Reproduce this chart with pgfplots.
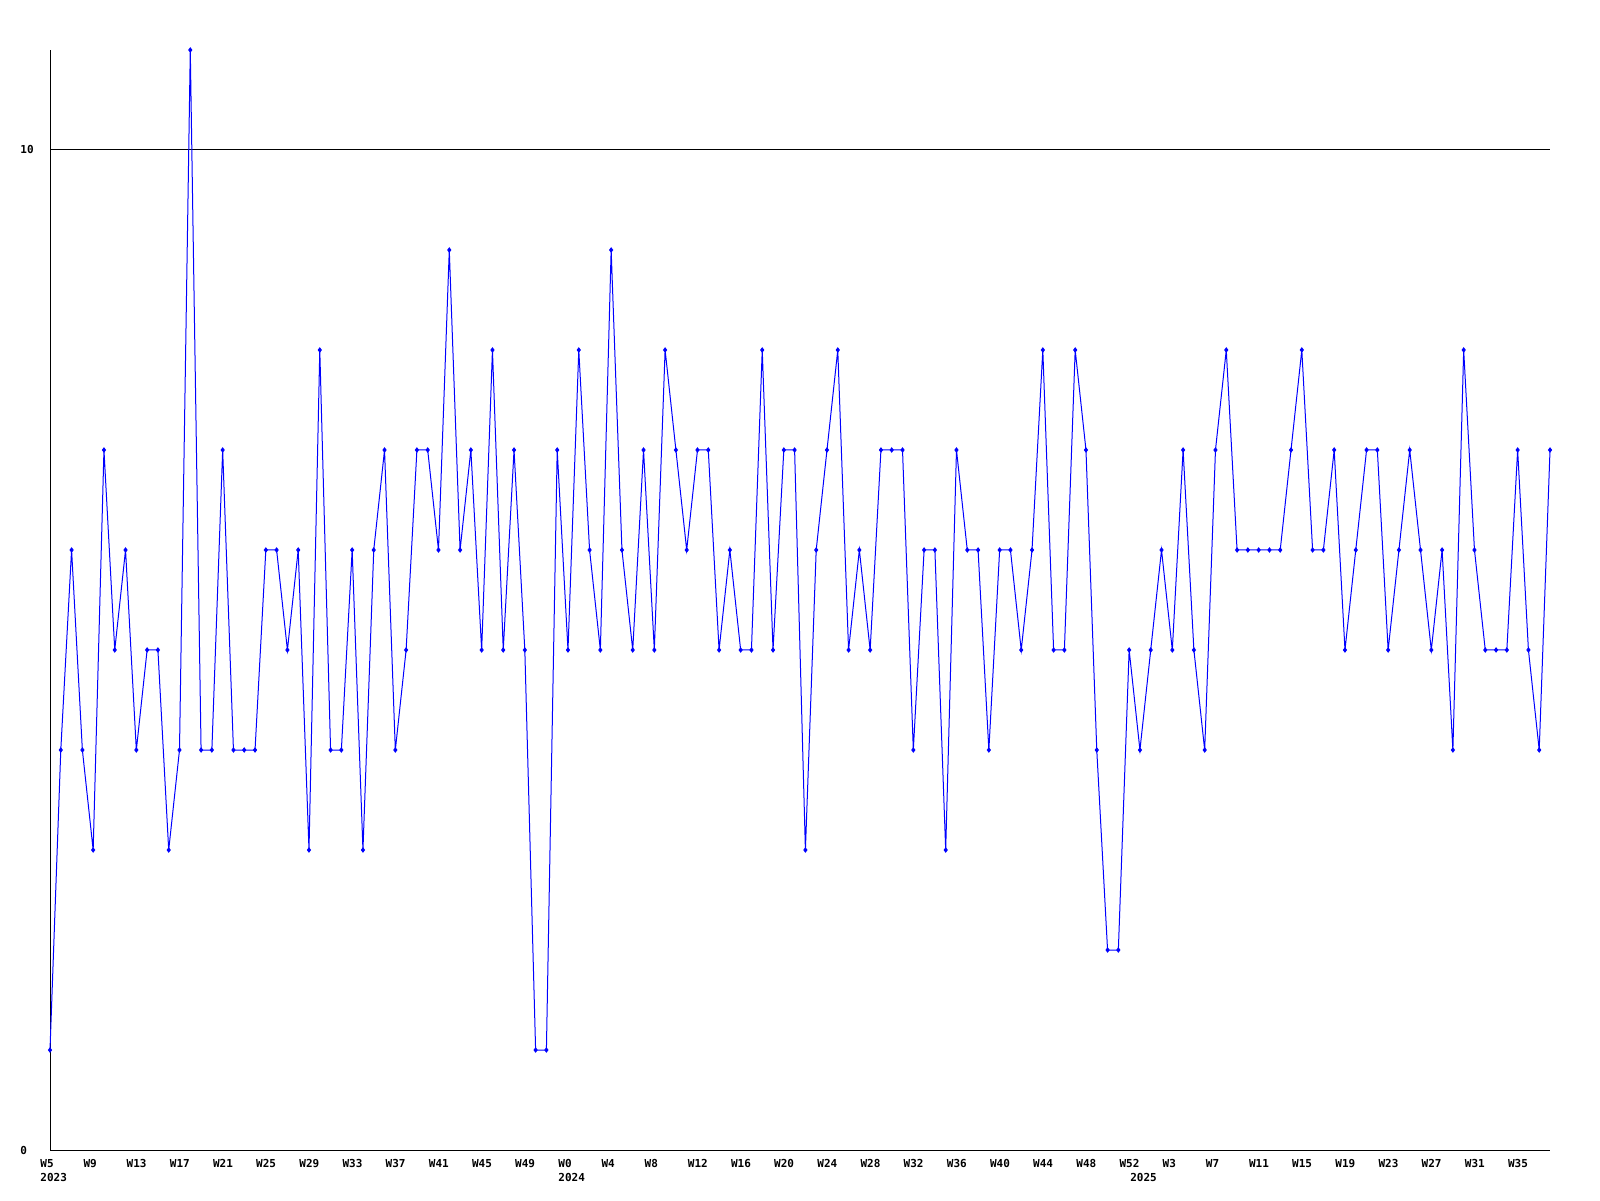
\documentclass[border=0pt]{standalone}
\usepackage{fontspec}
\setmainfont{DejaVu Sans Mono}
\usepackage{pgfplots}
\pgfplotsset{compat=1.18}
\definecolor{serieblue}{RGB}{0,0,255}
\pgfplotstableread{
i v
0 1
1 4
2 6
3 4
4 3
5 7
6 5
7 6
8 4
9 5
10 5
11 3
12 4
13 11
14 4
15 4
16 7
17 4
18 4
19 4
20 6
21 6
22 5
23 6
24 3
25 8
26 4
27 4
28 6
29 3
30 6
31 7
32 4
33 5
34 7
35 7
36 6
37 9
38 6
39 7
40 5
41 8
42 5
43 7
44 5
45 1
46 1
47 7
48 5
49 8
50 6
51 5
52 9
53 6
54 5
55 7
56 5
57 8
58 7
59 6
60 7
61 7
62 5
63 6
64 5
65 5
66 8
67 5
68 7
69 7
70 3
71 6
72 7
73 8
74 5
75 6
76 5
77 7
78 7
79 7
80 4
81 6
82 6
83 3
84 7
85 6
86 6
87 4
88 6
89 6
90 5
91 6
92 8
93 5
94 5
95 8
96 7
97 4
98 2
99 2
100 5
101 4
102 5
103 6
104 5
105 7
106 5
107 4
108 7
109 8
110 6
111 6
112 6
113 6
114 6
115 7
116 8
117 6
118 6
119 7
120 5
121 6
122 7
123 7
124 5
125 6
126 7
127 6
128 5
129 6
130 4
131 8
132 6
133 5
134 5
135 5
136 7
137 5
138 4
139 7
}\datatable
\begin{document}
\begin{tikzpicture}
\path[use as bounding box] (0pt,0pt) rectangle (800pt,600pt);
\begin{axis}[
  at={(25pt,25pt)}, anchor=south west,
  scale only axis, width=750pt, height=550pt,
  xmin=0, xmax=139, ymin=0, ymax=11,
  axis x line=bottom, axis y line=left,
  axis line style={-, black, line width=0.5pt},
  clip=false,
  ytick={0,10},
  ymajorgrids, grid style={black, line width=0.5pt},
  major tick length=0pt,
  tick style={draw=none},
  /pgf/number format/assume math mode=true,
  tick label style={font=\fontsize{5.5pt}{7.5pt}\selectfont\bfseries, inner sep=0pt},
  yticklabel style={anchor=west, xshift=-15pt},
  xtick={0,4,...,136},
  xticklabels={W5,W9,W13,W17,W21,W25,W29,W33,W37,W41,W45,W49,W0,W4,W8,W12,W16,W20,W24,W28,W32,W36,W40,W44,W48,W52,W3,W7,W11,W15,W19,W23,W27,W31,W35},
  xticklabel style={anchor=north west, xshift=-5pt, yshift=-4.5pt},
  extra x ticks={0,48,101},
  extra x tick labels={2023,2024,2025},
  extra x tick style={xticklabel style={yshift=-7pt}, grid=none},
]
\addplot[color=serieblue, line width=0.5pt, mark=diamond*, mark size=1pt, mark options={fill=serieblue, draw=serieblue}] table[x=i, y=v] {\datatable};
\end{axis}
\end{tikzpicture}
\end{document}
